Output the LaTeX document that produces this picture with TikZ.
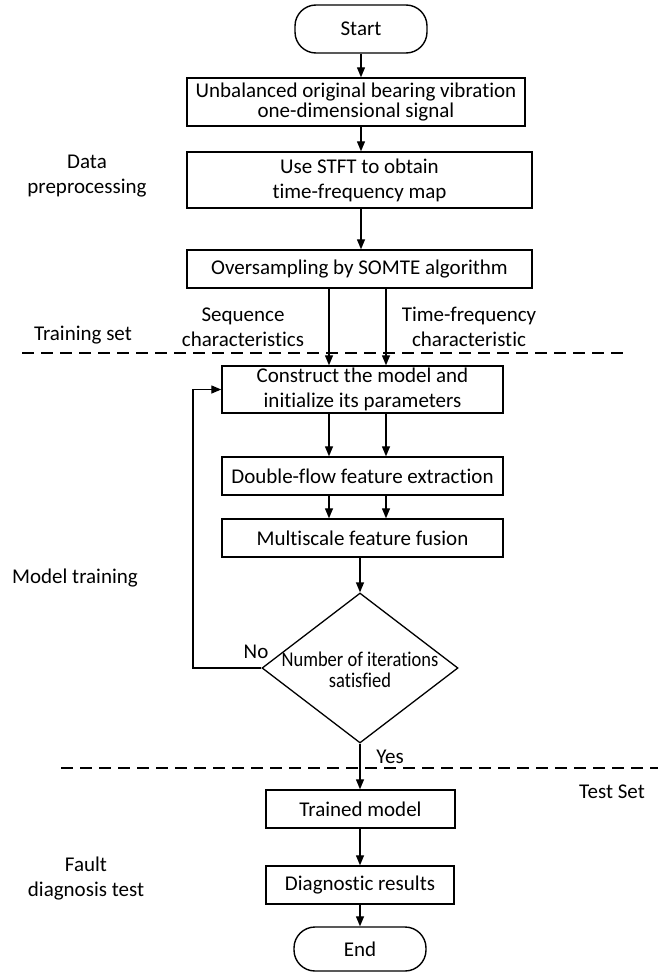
\documentclass[tikz,border=0pt]{standalone}
\usepackage{fontspec}
\setmainfont[Ligatures=NoCommon]{Carlito}
\usetikzlibrary{arrows.meta,shapes.geometric}
\tikzset{
  txt/.style={font=\fontsize{21}{25}\selectfont, align=center, inner sep=0pt},
  box/.style={txt, draw, line width=1.4pt, rectangle},
  term/.style={txt, draw, line width=1.4pt, rectangle, rounded corners=21pt},
  arr/.style={line width=1.3pt, -{Triangle[length=10pt,width=8pt]}},
  sep/.style={line width=1.4pt, dash pattern=on 12pt off 7pt},
}
\begin{document}
\begin{tikzpicture}[x=1pt,y=-1pt]
\useasboundingbox (0,0) rectangle (658,972);

\node[term, minimum width=132pt, minimum height=48pt] (start) at (361,29) {Start};
\node[box, minimum width=338pt, minimum height=48pt, font=\fontsize{21}{20.5}\selectfont] (b1) at (356,102) {Unbalanced original bearing vibration\\one-dimensional signal};
\node[box, minimum width=345pt, minimum height=56pt] (b2) at (359.5,180) {Use STFT to obtain\\time-frequency map};
\node[box, minimum width=345pt, minimum height=38pt] (b3) at (359.5,269) {Oversampling by SOMTE algorithm};
\node[box, minimum width=281pt, minimum height=47pt] (b4) at (362.5,389.5) {Construct the model and\\initialize its parameters};
\node[box, minimum width=281pt, minimum height=38pt] (b5) at (362.5,476) {Double-flow feature extraction};
\node[box, minimum width=281pt, minimum height=38pt] (b6) at (362.5,538) {Multiscale feature fusion};
\node[draw, diamond, line width=1.3pt, inner sep=0pt, minimum width=196pt, minimum height=150pt] (dia) at (360,668) {};
\node[txt, font=\fontsize{21}{21}\selectfont] (dtext) at (360,670) {\scalebox{0.88}[1]{Number of iterations}\\\scalebox{0.88}[1]{satisfied}};
\node[box, minimum width=189pt, minimum height=38pt] (b7) at (360.5,809) {Trained model};
\node[box, minimum width=188pt, minimum height=38pt] (b8) at (360,885) {Diagnostic results};
\node[term, minimum width=132pt, minimum height=44pt] (end) at (360,949) {End};

% side labels
\node[txt] (lpre) at (87,176) {Data\\preprocessing};
\node[txt] (ltrain) at (83,335) {Training set};
\node[txt] (lmodel) at (75,578) {Model training};
\node[txt] (ltest) at (612,792) {Test Set};
\node[txt] (lfault) at (86,879) {Fault\\diagnosis test};
\node[txt] (lseq) at (243,327) {Sequence\\characteristics};
\node[txt] (ltf) at (469,327) {Time-frequency\\characteristic};
\node[txt] (lno) at (256,652) {No};
\node[txt] (lyes) at (390,757) {Yes};

% separators
\coordinate (s1a) at (22,353); \coordinate (s1b) at (627,353);
\coordinate (s2a) at (61,768); \coordinate (s2b) at (658,768);
\draw[sep] (s1a) -- (s1b);
\draw[sep] (s2a) -- (s2b);

% connectors
\coordinate (xm) at (361,0);
\coordinate (xl) at (329,0);
\coordinate (xr) at (386,0);
\coordinate (fb) at (193,0);
\draw[arr] (start.south) -- (b1.north -| start.south);
\draw[arr] (b1.south -| xm) -- (b2.north -| xm);
\draw[arr] (b2.south -| xm) -- (b3.north -| xm);
\draw[arr] (b3.south -| xl) -- (b4.north -| xl);
\draw[arr] (b3.south -| xr) -- (b4.north -| xr);
\draw[arr] (b4.south -| xl) -- (b5.north -| xl);
\draw[arr] (b4.south -| xr) -- (b5.north -| xr);
\draw[arr] (b5.south -| xl) -- (b6.north -| xl);
\draw[arr] (b5.south -| xr) -- (b6.north -| xr);
\draw[arr] (b6.south -| dia.north) -- (dia.north);
\draw[arr] (dia.west) -| (fb |- b4.west) -- (b4.west);
\draw[arr] (dia.south) -- (b7.north -| dia.south);
\draw[arr] (b7.south -| b8.north) -- (b8.north);
\draw[arr] (b8.south) -- (end.north);
\end{tikzpicture}
\end{document}
